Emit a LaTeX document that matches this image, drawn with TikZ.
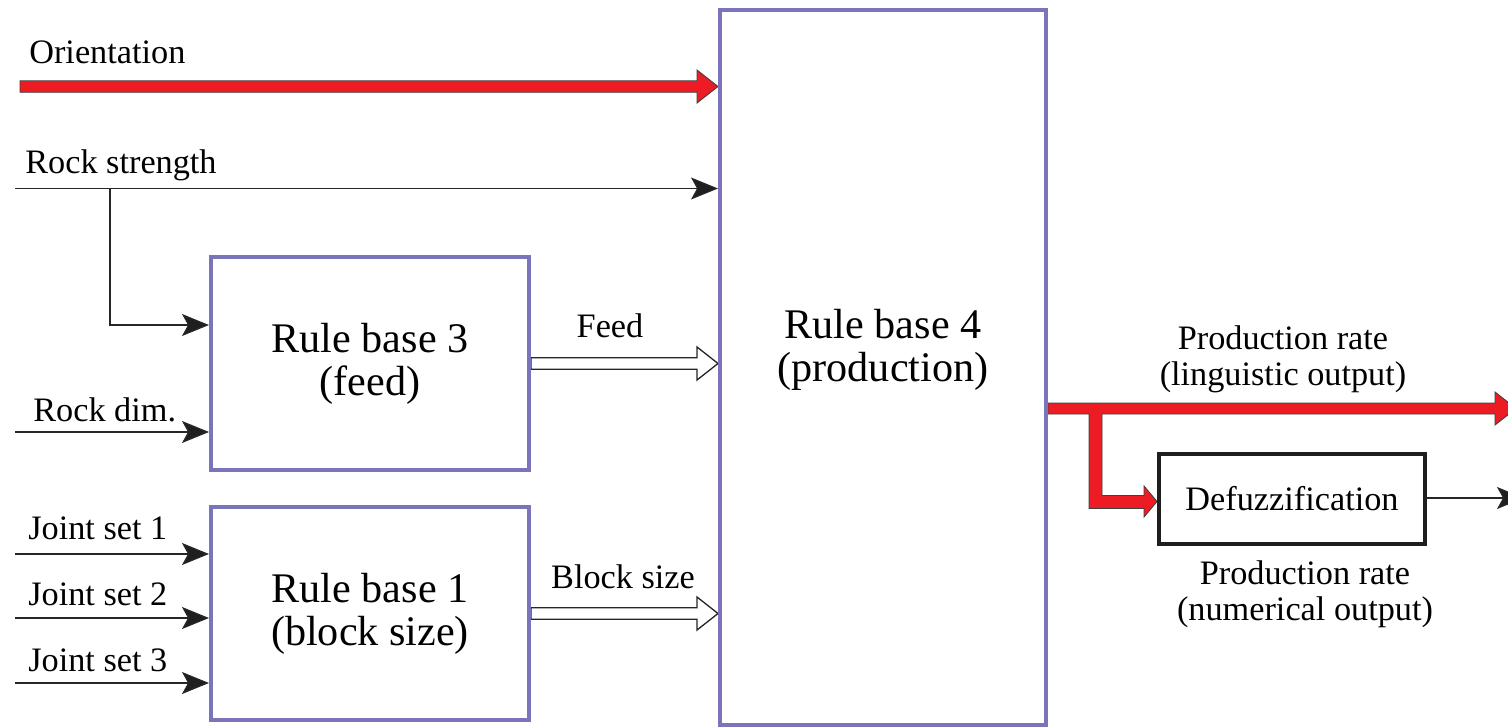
\documentclass[tikz,border=0pt]{standalone}
\usepackage{fontspec}
\setmainfont{Liberation Serif}
\usetikzlibrary{arrows.meta,calc,backgrounds}
\definecolor{rbpurple}{RGB}{122,116,186}
\definecolor{flowred}{RGB}{237,28,36}

% horizontal block arrow: style, tail point, tip point
\newcommand\blockarrow[3]{%
  \path[#1] ($(#2)+(0,-5.75)$) -- ($(#3)+(-21,-5.75)$) -- ($(#3)+(-21,-16.5)$)
    -- (#3) -- ($(#3)+(-21,16.5)$) -- ($(#3)+(-21,5.75)$) -- ($(#2)+(0,5.75)$) -- cycle;}

\begin{document}
\begin{tikzpicture}[x=0.02cm,y=-0.02cm,
  rulebox/.style={draw=rbpurple,line width=2.3pt,align=center,inner sep=0pt,
    font=\fontsize{24}{24.5}\selectfont},
  defbox/.style={draw=black!88,line width=2.3pt,align=center,inner sep=0pt,
    font=\fontsize{19.5}{20}\selectfont},
  lbl/.style={inner sep=0pt,font=\fontsize{19.5}{20}\selectfont},
  biglbl/.style={inner sep=0pt,align=center,font=\fontsize{24}{24.5}\selectfont},
  outlbl/.style={inner sep=0pt,align=center,font=\fontsize{19.5}{20.5}\selectfont},
  sig/.style={line width=0.75pt,draw=black!85,
    -{Stealth[length=0.54cm,width=0.44cm,inset=0.12cm,fill=black!88]}},
  redarrow/.style={fill=flowred,draw=black!75,line width=0.5pt},
  hollowarrow/.style={fill=white,draw=black!85,line width=0.75pt}]

\useasboundingbox (0,0) rectangle (1508,727);

% blocks
\node[rulebox,minimum width=6.52cm,minimum height=14.3cm] (rb4) at (883,367.5) {};
\node[rulebox,minimum width=6.36cm,minimum height=4.26cm] (rb3) at (370,363.5) {Rule base 3\\(feed)};
\node[rulebox,minimum width=6.36cm,minimum height=4.26cm] (rb1) at (370,613.5) {Rule base 1\\(block size)};
\node[defbox,minimum width=5.32cm,minimum height=1.8cm] (defuzz) at (1292,499) {Defuzzification};
\node[biglbl] (rb4lbl) at (883,350) {Rule base 4\\(production)};

% signal end points
\coordinate (orient) at (20,86.5);
\coordinate (rs) at (15,188.5);
\coordinate (rsb) at (110,188.5);
\coordinate (rd) at (15,432);
\coordinate (js1) at (15,554);
\coordinate (js2) at (15,618);
\coordinate (js3) at (15,683);
\coordinate (lingout) at (1516,408.5);
\coordinate (numout) at (1524,498);

\begin{scope}[on background layer]
  % red orientation input
  \blockarrow{redarrow}{orient}{orient -| rb4.west}
  % thin inputs
  \draw[sig] (rs) -- (rs -| rb4.west);
  \draw[sig] (rsb) |- (rb3.west |- 0,325);
  \draw[sig] (rd) -- (rd -| rb3.west);
  \draw[sig] (js1) -- (js1 -| rb1.west);
  \draw[sig] (js2) -- (js2 -| rb1.west);
  \draw[sig] (js3) -- (js3 -| rb1.west);
  % intermediate results
  \blockarrow{hollowarrow}{rb3.east}{rb3.east -| rb4.west}
  \blockarrow{hollowarrow}{rb1.east}{rb1.east -| rb4.west}
  % red production output with branch to defuzzification
  \path[redarrow]
    (rb4.east |- 0,403) -- ($(lingout)+(-21,-5.5)$) -- ($(lingout)+(-21,-16.5)$)
    -- (lingout) -- ($(lingout)+(-21,16.5)$) -- ($(lingout)+(-21,5.5)$)
    -- (1102,414) -- (1102,495.5) -- ($(defuzz.west)+(-13,-3.5)$)
    -- ($(defuzz.west)+(-13,-13)$) -- ($(defuzz.west)+(0,2.5)$)
    -- ($(defuzz.west)+(-13,18)$) -- ($(defuzz.west)+(-13,9.5)$)
    -- (1089,508.5) -- (1089,414) -- (rb4.east |- 0,414) -- cycle;
  % numerical output
  \draw[sig] (defuzz.east |- numout) -- (numout);
\end{scope}

% labels
\node[lbl,anchor=base west] (lorient) at (29,63) {Orientation};
\node[lbl,anchor=base west] (lrs) at (25,173) {Rock strength};
\node[lbl,anchor=base west] (lrd) at (33,421) {Rock dim.};
\node[lbl,anchor=base west] (ljs1) at (28,539) {Joint set 1};
\node[lbl,anchor=base west] (ljs2) at (28,605) {Joint set 2};
\node[lbl,anchor=base west] (ljs3) at (28,671) {Joint set 3};
\node[lbl,anchor=base] (lfeed) at (610,337) {Feed};
\node[lbl,anchor=base] (lblock) at (623,588) {Block size};
\node[outlbl] (lling) at (1283,359) {Production rate\\(linguistic output)};
\node[outlbl] (lnum) at (1305,594) {Production rate\\(numerical output)};
\end{tikzpicture}
\end{document}
